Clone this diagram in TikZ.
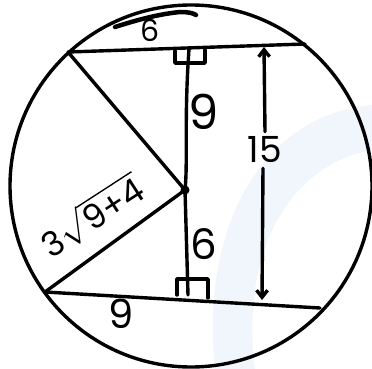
\RequirePackage{fix-cm}
\documentclass[tikz,border=0pt]{standalone}
\usepackage{amsmath}
\usepackage{fontspec}
\newfontfamily\handfont{Poppins}
\usetikzlibrary{arrows.meta,calc}
\definecolor{wmark}{RGB}{241,246,252}
\tikzset{
	pen/.style={line width=3.4pt, line cap=round, line join=round},
	num/.style={font=\handfont\fontsize{#1}{#1}\selectfont, inner sep=1pt},
	num/.default=40,
	barb/.style={-{Straight Barb[length=7pt,width=11pt]}},
}
\begin{document}
\begin{tikzpicture}[x=1pt, y=-1pt]
	\useasboundingbox (0,0) rectangle (372,369);
	% faint watermark
	\fill[wmark] (372,105) .. controls (260,115) and (200,230) .. (215,369) -- (255,369)
		.. controls (240,250) and (290,165) .. (372,150) -- cycle;
	% points
	\coordinate (ctr) at (191,186);
	\coordinate (A) at (68,52);
	\coordinate (B) at (305,44);
	\coordinate (C) at (45,292);
	\coordinate (D) at (320,308);
	\coordinate (O) at (185,190);
	\coordinate (M) at (189,49);
	\coordinate (N) at (188,295);
	% circle and chords
	\draw[pen] (ctr) circle (181);
	\draw[pen] (A) -- (B);
	\draw[pen] (C) -- (D);
	\draw[pen] (M) .. controls (184,120) and (188,160) .. (O) -- (N);
	\draw[pen] (A) -- (O) -- (C);
	\fill (O) circle (4.5);
	% right angle marks
	\draw[pen] ($(M)+(-14,2)$) -- ($(M)+(-14,14)$) -- ($(M)+(16,14)$) -- ($(M)+(16,1)$);
	\draw[pen] ($(N)+(-11,0)$) -- ($(N)+(-11,-16)$) -- ($(N)+(20,-16)$) -- ($(N)+(20,3)$);
	% arc mark for 6
	\draw[line width=4.5pt, line cap=round] (115,27) .. controls (140,19) and (160,14) .. (180,12)
		.. controls (188,12) and (193,13) .. (196,15);
	% dimension 15
	\node[num=36] (len) at (265,150) {15};
	\coordinate (ptop) at (264,47);
	\coordinate (pbot) at (262,300);
	\draw[pen, barb] (len.north) ++(0,-4) -- (ptop);
	\draw[pen, barb] (len.south) ++(-2,4) -- (pbot);
	% labels
	\node[num=30] (halfTop) at (150,30) {6};
	\node[num=48] (upper) at (204,112) {9};
	\node[num=42] (lower) at (204,244) {6};
	\node[num=40] (halfBot) at (121,314) {9};
	\node[num=34, rotate=33] (rad) at (92,216) {3$\sqrt{\text{\handfont\fontsize{34}{34}\selectfont 9+4}}$};
\end{tikzpicture}
\end{document}
